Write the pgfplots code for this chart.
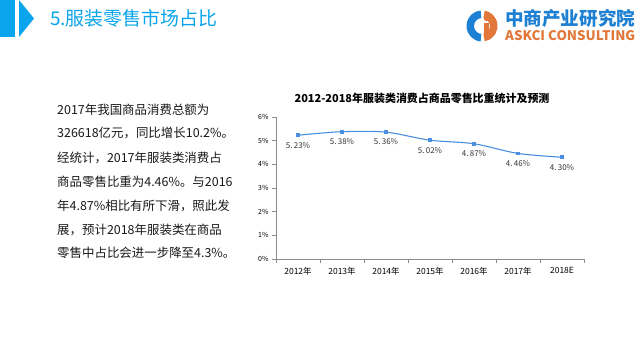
\documentclass[border=0pt]{standalone}
\usepackage{fontspec}
\setmainfont{Noto Sans CJK SC}
\usepackage{graphicx}
\usepackage{pgfplots}
\pgfplotsset{compat=1.18}
\definecolor{hdr}{HTML}{0AA5EC}
\definecolor{logoblue}{HTML}{1E80D2}
\definecolor{logoorange}{HTML}{E2773A}
\definecolor{linec}{HTML}{4A90DE}
\definecolor{axgray}{HTML}{8C8C8C}
\begin{document}
\begin{tikzpicture}[x=1bp,y=1bp]
\path[use as bounding box, fill=white] (0,0) rectangle (640,360);
% header
\fill[hdr] (0,323) rectangle (15,360);
\fill[hdr] (19,360) -- (34,341.5) -- (19,323) -- cycle;
\node[anchor=west, text=hdr, font=\fontsize{19}{21}\selectfont, inner sep=0] at (50,342) {5.服装零售市场占比};
% logo icon
\fill[logoblue, shift={(482,334)}] (95:15.5) arc[start angle=95,end angle=265,radius=15.5] -- (265:8) arc[start angle=265,end angle=95,radius=8] -- cycle;
\fill[logoorange, shift={(482,334)}] (80:15.5) arc[start angle=80,end angle=-80,radius=15.5] -- (-80:8) arc[start angle=-80,end angle=80,radius=8] -- cycle;
\fill[logoorange] (484,322) rectangle (489,337);
\fill[logoorange] (486.5,341.5) circle (2.6);
% logo text
\node[anchor=west, inner sep=0, text=logoblue, font=\fontsize{18}{20}\selectfont\bfseries] at (505,342) {\resizebox{130bp}{!}{中商产业研究院}};
\node[anchor=west, inner sep=0, text=logoorange, font=\bfseries] at (505,324) {\resizebox{130bp}{10bp}{ASKCI CONSULTING}};
% left text
\begin{scope}[every node/.style={anchor=west, inner sep=0, font=\fontsize{12.5}{14}\selectfont, text=black!90}]
\node at (57,250) {2017年我国商品消费总额为};
\node at (57,227) {326618亿元，同比增长10.2\%。};
\node at (57,202) {经统计，2017年服装类消费占};
\node at (57,178) {商品零售比重为4.46\%。与2016};
\node at (57,154) {年4.87\%相比有所下滑，照此发};
\node at (57,130) {展，预计2018年服装类在商品};
\node at (57,107) {零售中占比会进一步降至4.3\%。};
\end{scope}
% chart title
\node[inner sep=0, font=\fontsize{11}{12}\selectfont\bfseries] at (422,262) {2012-2018年服装类消费占商品零售比重统计及预测};
\begin{axis}[
 at={(276bp,101bp)}, anchor=south west, scale only axis,
 width=308bp, height=142bp,
 xmin=-0.5, xmax=6.5, ymin=0, ymax=6,
 axis x line*=bottom, axis y line*=left,
 axis line style={axgray, line width=0.8bp, -},
 xtick={0,...,6},
 xticklabels={2012年,2013年,2014年,2015年,2016年,2017年,2018E},
 major x tick style={draw=none},
 minor xtick={-0.5,0.5,1.5,2.5,3.5,4.5,5.5,6.5},
 minor x tick style={axgray, line width=0.8bp},
 tick align=outside,
 minor tick length=4bp, major tick length=4bp,
 ytick={0,1,2,3,4,5,6},
 yticklabels={0\%,1\%,2\%,3\%,4\%,5\%,6\%},
 y tick style={axgray, line width=0.8bp},
 xticklabel style={font=\fontsize{8.5}{9}\selectfont, text=black, yshift=-1bp},
 yticklabel style={font=\fontsize{7}{8}\selectfont, text=black},
 clip=false,
]
\addplot[linec, line width=1.1bp, smooth, mark=square*, mark size=1.3bp,
 mark options={fill=linec, draw=linec},
 nodes near coords, point meta=explicit symbolic,
 every node near coord/.append style={anchor=north, font=\fontsize{8}{9}\selectfont, text=black!80, yshift=-3bp}]
 coordinates {
 (0,5.23) [5.\,23\%]
 (1,5.38) [5.\,38\%]
 (2,5.36) [5.\,36\%]
 (3,5.02) [5.\,02\%]
 (4,4.87) [4.\,87\%]
 (5,4.46) [4.\,46\%]
 (6,4.30) [4.\,30\%]
 };
\end{axis}
\end{tikzpicture}
\end{document}
